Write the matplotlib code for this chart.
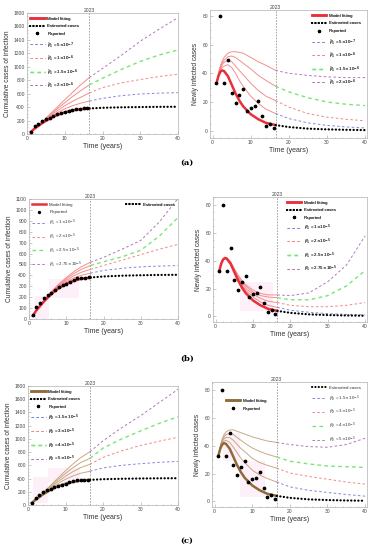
import matplotlib
matplotlib.use('Agg')
import matplotlib.pyplot as plt
from matplotlib.lines import Line2D
from matplotlib.ticker import AutoMinorLocator

plt.rcParams['font.family'] = ['Liberation Sans', 'DejaVu Sans']
plt.rcParams['mathtext.fontset'] = 'dejavusans'

# ---- reported data (years 1..16) ----
years = list(range(1, 17))
reported_new = [33, 80, 33, 49, 26, 19, 25, 29, 14, 16, 17, 21, 10, 3, 5, 2]
reported_cum = [33, 113, 146, 195, 221, 240, 265, 294, 308, 324, 341, 362, 372, 375, 380, 382]

# time grids of the curves
t_fit = [1, 1.5, 2, 2.5, 3, 4, 5, 6, 7, 8, 10, 12, 14, 16.5]
t_proj = [16.5, 20, 25, 30, 35, 40]

# baseline model fit and estimated cases
fit_new = [33, 38, 41, 42, 41.5, 38, 32, 26, 21, 17, 11.5, 8, 5.5, 4]
fit_cum = [30, 55, 80, 100, 120, 160, 195, 228, 258, 283, 322, 350, 368, 380]
est_new = [4, 2.6, 1.5, 1, 0.7, 0.5]
est_cum = [380, 390, 397, 401, 404, 405]

# ---- (a) beta_bar_1 scenarios ----
a_labels = [r'$\bar{\beta}_1$ = 5$\times$10$^{-7}$', r'$\bar{\beta}_1$ = 1$\times$10$^{-6}$',
            r'$\bar{\beta}_1$ = 1.5$\times$10$^{-6}$', r'$\bar{\beta}_1$ = 2$\times$10$^{-6}$']
a_cum_fit = [[30, 55, 80, 100, 122, 165, 205, 245, 280, 315, 375, 420, 455, 490],
             [30, 55, 80, 102, 125, 170, 215, 260, 305, 345, 420, 485, 540, 610],
             [30, 55, 81, 104, 128, 175, 225, 275, 325, 375, 465, 555, 635, 730],
             [30, 56, 82, 106, 130, 180, 235, 290, 345, 400, 510, 615, 720, 840]]
a_cum_proj = [[490, 530, 570, 595, 608, 615],
              [610, 690, 760, 810, 855, 890],
              [730, 830, 960, 1080, 1175, 1250],
              [840, 975, 1170, 1380, 1560, 1730]]
a_new_fit = [[33, 38, 42, 44, 45, 46, 44, 40, 35, 31, 24, 19, 15, 12],
             [33, 39, 43, 46, 47.5, 49, 48, 45, 42, 39, 33, 28, 24, 21],
             [33, 39, 44, 47, 49, 51.5, 52, 51, 49, 47, 43, 38.5, 35, 31],
             [33, 40, 45, 48.5, 51, 54, 55, 55, 54.5, 54, 51, 48, 45.5, 42]]
a_new_proj = [[12, 8.5, 5.5, 3.8, 2.7, 2],
              [21, 16.5, 12, 9.5, 8, 7],
              [31, 27, 23, 20, 18.5, 17.5],
              [42, 40, 38.5, 37.5, 37, 37]]

# ---- (b) beta_1 scenarios ----
b_labels = [r'$\beta_1$ = 1$\times$10$^{-5}$', r'$\beta_1$ = 2$\times$10$^{-5}$',
            r'$\beta_1$ = 2.5$\times$10$^{-5}$', r'$\beta_1$ = 2.75$\times$10$^{-5}$']
b_cum_fit = [[30, 55, 80, 100, 122, 162, 200, 234, 265, 293, 340, 375, 400, 420],
             [30, 55, 80, 101, 123, 164, 204, 240, 273, 303, 355, 395, 428, 455],
             [30, 55, 80, 102, 124, 166, 207, 245, 280, 312, 368, 415, 455, 490],
             [30, 55, 81, 103, 125, 168, 210, 250, 287, 320, 380, 433, 478, 520]]
b_cum_proj = [[420, 445, 465, 478, 485, 490],
              [455, 490, 540, 590, 640, 684],
              [490, 525, 570, 630, 760, 930],
              [520, 565, 640, 720, 890, 1105]]
b_new_fit = [[33, 38, 41, 42, 41.5, 38, 32.5, 27, 22.5, 19, 14, 10.5, 8, 6.5],
             [33, 38, 41, 42.2, 41.8, 38.5, 33, 28, 24, 20.5, 16, 13, 11, 10],
             [33, 38, 41.2, 42.5, 42, 39, 34, 29, 25, 22, 17.5, 15, 14, 13.5],
             [33, 38, 41.3, 42.7, 42.3, 39.5, 34.5, 30, 26, 23, 19, 16.5, 15.5, 15.5]]
b_new_proj = [[6.5, 4.5, 3, 2, 1.5, 1.2],
              [10, 8, 7, 7, 8, 10],
              [13.5, 12, 12, 15, 22, 33],
              [15.5, 15, 17, 25, 37, 58]]

# ---- (c) beta_2 scenarios ----
c_labels = [r'$\beta_2$ = 1.5$\times$10$^{-5}$', r'$\beta_2$ = 3$\times$10$^{-5}$',
            r'$\beta_2$ = 4$\times$10$^{-5}$', r'$\beta_2$ = 5$\times$10$^{-5}$']
c_cum_fit = [[30, 55, 80, 102, 124, 170, 212, 252, 290, 325, 390, 440, 480, 510],
             [30, 55, 81, 104, 127, 175, 222, 268, 312, 355, 435, 505, 565, 615],
             [30, 56, 82, 106, 130, 180, 232, 283, 333, 383, 478, 565, 640, 705],
             [30, 56, 83, 108, 133, 185, 240, 296, 352, 408, 518, 622, 715, 805]]
c_cum_proj = [[510, 560, 600, 625, 645, 660],
              [615, 720, 820, 900, 965, 1025],
              [705, 860, 1000, 1120, 1235, 1335],
              [805, 970, 1170, 1350, 1550, 1750]]
c_new_fit = [[33, 38.5, 42, 43.5, 44, 42.5, 39, 35, 31, 28, 22.5, 19, 16.5, 14],
             [33, 39, 43, 45, 46, 46, 44, 41, 38, 36, 31, 28, 26, 24],
             [33, 39.5, 44, 46.5, 48, 49, 48, 46, 44, 42, 38.5, 36, 34, 32],
             [33, 40, 45, 48, 50, 51.5, 51.5, 50.5, 49.5, 48.5, 46.5, 45, 43.5, 42.5]]
c_new_proj = [[14, 10.5, 8, 6.5, 5, 3.8],
              [24, 20.5, 18, 16, 14, 12.5],
              [32, 29, 27, 25.5, 25, 24.5],
              [42.5, 41, 39.5, 39, 41, 45.5]]

# faint pink bands seen behind the fits in (b) and (c)
b_cum_band = ([1.5, 5.5, 13.5], [0, 195, 195], [210, 365, 365])
b_new_band = ([6.5, 15.4], [4, 4], [25, 25])
c_cum_band = ([1.3, 5.3, 13.8], [25, 350, 350], [430, 555, 555])
c_new_band = ([2.2, 6.7, 13.3], [29, 3, 3], [49, 29, 29])

scen_colors = ['#8585dd', '#f08888', '#77e677', '#b575c0']
scen_lw = [0.7, 0.7, 1.0, 0.7]
DOTS = (0, (0.1, 1.5))
DASH = (0, (2.6, 2.4))


def style_axes(ax, ylim, yticks, ylabel):
    ax.set_xlim(0, 40)
    ax.set_ylim(*ylim)
    ax.set_xticks([0, 10, 20, 30, 40])
    ax.set_yticks(yticks)
    ax.xaxis.set_minor_locator(AutoMinorLocator(5))
    ax.yaxis.set_minor_locator(AutoMinorLocator(4))
    for s in ax.spines.values():
        s.set_color('#b0b0b0')
        s.set_linewidth(0.5)
    ax.tick_params(which='both', direction='in', color='#a0a0a0', width=0.4,
                   labelsize=3.6, labelcolor='#444444', pad=1.5)
    ax.tick_params(which='major', length=2)
    ax.tick_params(which='minor', length=1)
    ax.set_xlabel('Time (years)', fontsize=5, color='#333333', labelpad=1.5)
    ax.set_ylabel(ylabel, fontsize=4.8, color='#333333', labelpad=2)
    ax.axvline(16.5, color='#999999', lw=0.6, ls=(0, (2, 1.5)), zorder=1)
    ax.text(16.5, ylim[1], '2023', ha='center', va='bottom', fontsize=3.6, color='#444444')


def draw(ax, fits, projs, base_fit, base_est, rep, fit_col, scen_fit_col, band=None):
    if band is not None:
        ax.fill_between(band[0], band[1], band[2], step='post', color='#fdf0f9', lw=0, zorder=0)
    for k in range(4):
        ax.plot(t_fit, fits[k], color=scen_fit_col, lw=0.7, alpha=0.85, zorder=2)
        ax.plot(t_proj, projs[k], color=scen_colors[k], lw=scen_lw[k], ls=DASH, zorder=2)
    ax.plot(t_fit, base_fit, color=fit_col, lw=1.8, zorder=3)
    ax.plot(t_proj, base_est, color='black', lw=1.6, ls=DOTS, dash_capstyle='round', zorder=3)
    ax.plot(years, rep, 'o', color='black', ms=1.7, zorder=4)


def handles(fit_col):
    h_fit = Line2D([], [], color=fit_col, lw=1.8)
    h_est = Line2D([], [], color='black', lw=1.5, ls=DOTS, dash_capstyle='round')
    h_rep = Line2D([], [], color='black', marker='o', ms=1.4, ls='none')
    h_sc = [Line2D([], [], color=scen_colors[k], lw=scen_lw[k], ls=DASH) for k in range(4)]
    return h_fit, h_est, h_rep, h_sc


def legend(ax, hs, labs, loc, anchor, spacing=0.8):
    lg = ax.legend(hs, labs, loc=loc, bbox_to_anchor=anchor, frameon=False, fontsize=3.2,
                   handlelength=3.2, handletextpad=0.6, labelspacing=spacing,
                   borderaxespad=0, labelcolor='#333333')
    ax.add_artist(lg)
    return lg


fig = plt.figure(figsize=(3.74, 5.5), dpi=100)
W, H = 374.0, 550.0


def add_ax(l, r, t, b):
    return fig.add_axes([l / W, 1 - b / H, (r - l) / W, (b - t) / H])


red = '#e8303a'
red_light = '#f27a7a'
brown = '#8f6a3a'
brown_light = '#c09a70'
cum_label = 'Cumulative cases of infection'
new_label = 'Newly infected cases'

# (a)
ax1 = add_ax(27, 178, 13, 134)
draw(ax1, a_cum_fit, a_cum_proj, fit_cum, est_cum, reported_cum, red, red_light)
style_axes(ax1, (0, 1800), range(0, 1801, 200), cum_label)
hf, he, hr, hs = handles(red)
legend(ax1, [hf, he, hr] + hs, ['Model fitting', 'Estimated cases', 'Reported'] + a_labels,
       'upper left', (0.01, 0.985))

ax2 = add_ax(210, 367, 10, 138)
draw(ax2, a_new_fit, a_new_proj, fit_new, est_new, reported_new, red, red_light)
style_axes(ax2, (-5, 84), [0, 20, 40, 60, 80], new_label)
ax2.set_xlim(-0.7, 40.5)
legend(ax2, [hf, he, hr] + hs, ['Model fitting', 'Estimated cases', 'Reported'] + a_labels,
       'upper right', (0.97, 0.985))

# (b)
ax3 = add_ax(29, 178, 199, 319)
draw(ax3, b_cum_fit, b_cum_proj, fit_cum, est_cum, reported_cum, red, red_light, b_cum_band)
style_axes(ax3, (0, 1100), range(0, 1101, 100), cum_label)
hf, he, hr, hs = handles(red)
legend(ax3, [hf, hr] + hs, ['Model fitting', 'Reported'] + b_labels, 'upper left', (0.01, 0.985))
legend(ax3, [he], ['Estimated cases'], 'upper right', (0.99, 0.985))

ax4 = add_ax(213, 367, 197, 322)
draw(ax4, b_new_fit, b_new_proj, fit_new, est_new, reported_new, red, red_light, b_new_band)
style_axes(ax4, (-4, 86), [0, 20, 40, 60, 80], new_label)
ax4.set_xlim(-0.7, 40.5)
legend(ax4, [hf, he, hr] + hs, ['Model fitting', 'Estimated cases', 'Reported'] + b_labels,
       'upper left', (0.47, 0.985), spacing=0.75)

# (c)
ax5 = add_ax(28, 178, 386, 505)
draw(ax5, c_cum_fit, c_cum_proj, fit_cum, est_cum, reported_cum, brown, brown_light, c_cum_band)
style_axes(ax5, (0, 1800), range(0, 1801, 200), cum_label)
hf, he, hr, hs = handles(brown)
legend(ax5, [hf, he, hr] + hs, ['Model fitting', 'Estimated cases', 'Reported'] + c_labels,
       'upper left', (0.01, 0.985))

ax6 = add_ax(212, 367, 382, 507)
draw(ax6, c_new_fit, c_new_proj, fit_new, est_new, reported_new, brown, brown_light, c_new_band)
style_axes(ax6, (-4, 86), [0, 20, 40, 60, 80], new_label)
ax6.set_xlim(-0.7, 40.5)
legend(ax6, [he] + hs, ['Estimated cases'] + c_labels, 'upper right', (0.97, 0.985), spacing=0.8)
legend(ax6, [hf, hr], ['Model fitting', 'Reported'], 'upper left', (0.08, 0.88), spacing=0.8)

for y, lab in [(163, '(a)'), (359, '(b)'), (541, '(c)')]:
    fig.text(0.5, 1 - y / H, lab, ha='center', va='center', fontsize=6,
             fontweight='bold', family='DejaVu Serif')

fig.savefig('out.png', dpi=100)
